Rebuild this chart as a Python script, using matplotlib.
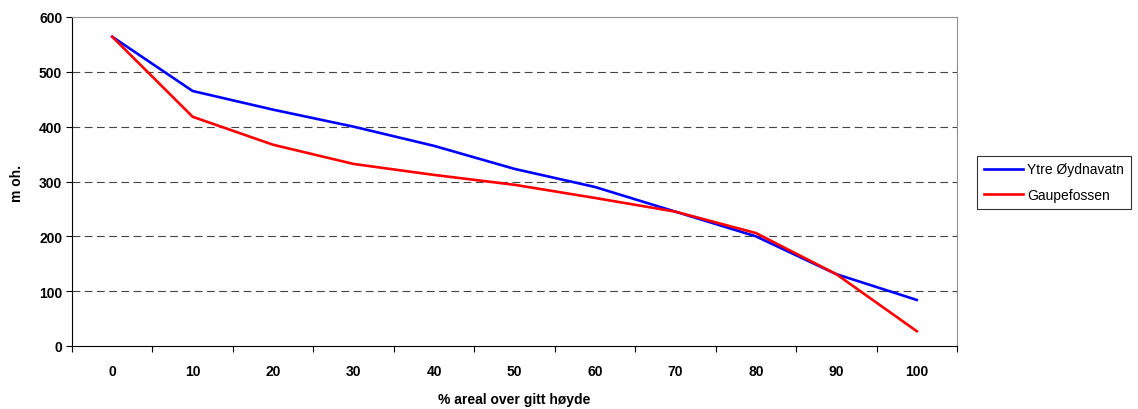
import numpy as np
import matplotlib.pyplot as plt

plt.rcParams['font.family'] = ['Liberation Sans', 'DejaVu Sans']

categories = ['0', '10', '20', '30', '40', '50', '60', '70', '80', '90', '100']
ytre = [564, 465, 431, 400, 365, 323, 290, 245, 200, 131, 84]
gaupe = [564, 418, 367, 332, 312, 294, 270, 245, 206, 131, 27]

fig = plt.figure(figsize=(11.38, 4.1), dpi=100)
ax = fig.add_axes([72/1138, 1 - 347/410, (957-72)/1138, (347-18)/410])

x = np.arange(len(categories))
ax.plot(x, ytre, color='#0000ff', lw=1.9, label='Ytre Øydnavatn')
ax.plot(x, gaupe, color='#ff0000', lw=1.9, label='Gaupefossen')

ax.set_xlim(-0.5, len(categories) - 0.5)
ax.set_ylim(0, 600)
ax.set_yticks(range(0, 601, 100))
ax.set_xticks(np.arange(-0.5, len(categories), 1))
ax.set_xticklabels([])
ax.set_xticks(x, minor=True)
ax.set_xticklabels(categories, minor=True)
ax.tick_params(axis='x', which='minor', length=0, pad=13)
ax.tick_params(axis='x', which='major', length=4, direction='out')
ax.tick_params(axis='y', length=4, direction='out', pad=3)
for lab in ax.get_xticklabels(minor=True) + ax.get_yticklabels():
    lab.set_fontsize(10)
    lab.set_fontweight('bold')

for v in range(100, 600, 100):
    ax.axhline(v, color='#444444', lw=0.8, ls=(0, (7, 4)), zorder=0)

ax.spines['left'].set_color('black')
ax.spines['bottom'].set_color('black')
ax.spines['top'].set_color('#909090')
ax.spines['right'].set_color('#909090')

ax.set_xlabel('% areal over gitt høyde', fontsize=10, fontweight='bold', labelpad=10)
fig.text(17/1138, 1 - 183/410, 'm oh.', rotation=90, ha='center', va='center',
         fontsize=10, fontweight='bold')

leg = fig.legend(loc='center left', bbox_to_anchor=(970/1138, 1 - 183/410), fontsize=10,
                 frameon=True, fancybox=False, edgecolor='black', handlelength=2.8,
                 borderpad=0.5, labelspacing=0.8, handletextpad=0.3)
leg.get_frame().set_linewidth(0.8)

fig.savefig('out.png', dpi=100)
